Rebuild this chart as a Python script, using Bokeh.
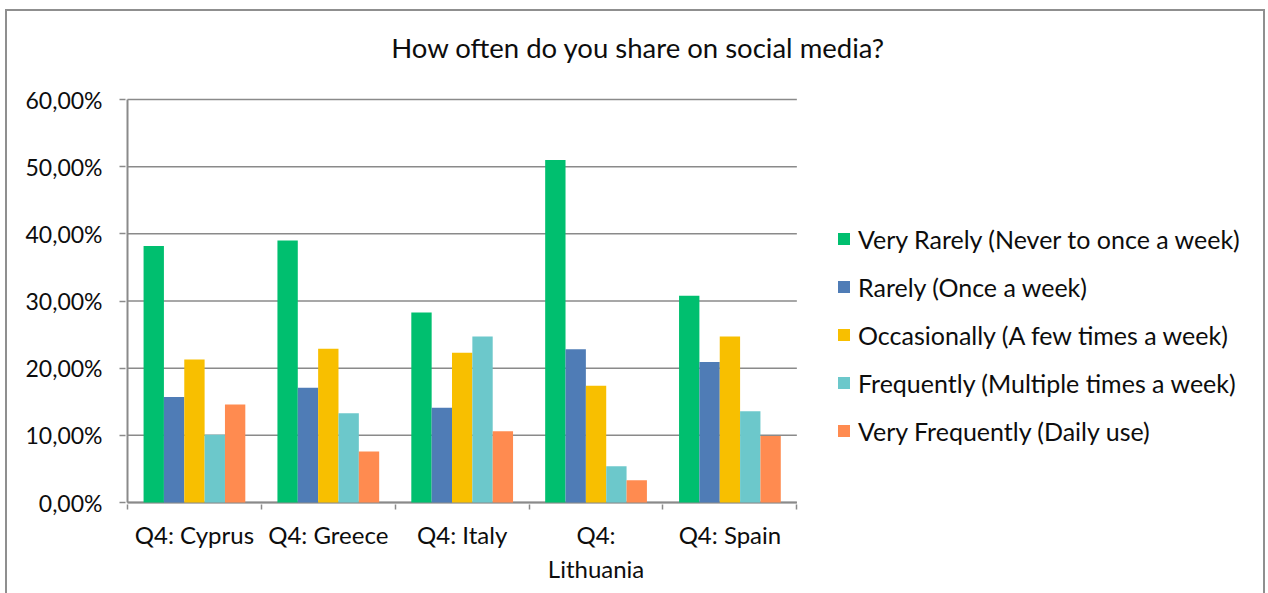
from bokeh.plotting import figure
from bokeh.models import Range1d, FixedTicker, ColumnDataSource, Legend, LegendItem, Label
from bokeh.embed import file_html
from bokeh.resources import INLINE

categories = ["Q4: Cyprus", "Q4: Greece", "Q4: Italy", "Q4: Lithuania", "Q4: Spain"]
x_tick_labels = ["Q4: Cyprus", "Q4: Greece", "Q4: Italy", "Q4:\nLithuania", "Q4: Spain"]

series_names = [
    "Very Rarely (Never to once a week)",
    "Rarely (Once a week)",
    "Occasionally (A few times a week)",
    "Frequently (Multiple times a week)",
    "Very Frequently (Daily use)",
]
very_rarely = [0.382, 0.390, 0.283, 0.510, 0.308]
rarely = [0.157, 0.171, 0.141, 0.228, 0.209]
occasionally = [0.213, 0.229, 0.223, 0.174, 0.247]
frequently = [0.101, 0.133, 0.247, 0.054, 0.136]
very_frequently = [0.146, 0.076, 0.106, 0.033, 0.099]

y_ticks = [0.0, 0.1, 0.2, 0.3, 0.4, 0.5, 0.6]
y_tick_labels = ["0,00%", "10,00%", "20,00%", "30,00%", "40,00%", "50,00%", "60,00%"]
title_text = "How often do you share on social media?"

colors = ["#00BF6F", "#4F7CB6", "#F8BF00", "#6CC8CB", "#FF8B50"]
series_values = [very_rarely, rarely, occasionally, frequently, very_frequently]

FONT = "Lato"
TXT = "#0d0d0d"
GRID = "#8a8a8a"

# ---- layout constants (page pixels) ----
n = len(categories)
y_max = y_ticks[-1]
PLOT_L, PLOT_R = 127, 794      # plotting area (data x 0..n)
PLOT_T, PLOT_B = 99, 502       # plotting area (data y 0..y_max)
FRAME_L, FRAME_R = 125, 1263   # bokeh frame
FRAME_T, FRAME_B = 11, 504
CANVAS_B = 595
ux = (PLOT_R - PLOT_L) / n     # px per category
uy = (PLOT_B - PLOT_T) / y_max # px per unit y

x_range = Range1d((FRAME_L - PLOT_L) / ux, (FRAME_R - PLOT_L) / ux)
y_range = Range1d((PLOT_B - FRAME_B) / uy, (PLOT_B - FRAME_T) / uy)

p = figure(width=1260, height=584, x_range=x_range, y_range=y_range,
           output_backend="svg", toolbar_location=None,
           min_border_left=FRAME_L - 7, min_border_right=0, min_border_top=0,
           min_border_bottom=CANVAS_B - FRAME_B)
p.margin = (9, 0, 0, 5)
p.styles = {"border-top": "2px solid #8f8f8f", "border-left": "2px solid #8f8f8f",
            "border-right": "2px solid #8f8f8f", "box-sizing": "border-box"}
p.outline_line_color = None
p.background_fill_color = "white"
p.border_fill_color = "white"

# gridlines and axis lines limited to plotting area
p.segment(x0=[0] * len(y_ticks), x1=[n] * len(y_ticks), y0=y_ticks, y1=y_ticks,
          line_color=GRID, line_width=1.5)
p.segment(x0=[0], x1=[0], y0=[0], y1=[y_max], line_color=GRID, line_width=2)
p.segment(x0=[0], x1=[n], y0=[0], y1=[0], line_color=GRID, line_width=2)

bar_w = 0.152
items = []
for k, (name, vals, col) in enumerate(zip(series_names, series_values, colors)):
    xs = [i + 0.5 + (k - 2) * bar_w for i in range(n)]
    src = ColumnDataSource(dict(x=xs, top=vals, cat=categories))
    r = p.vbar(x="x", top="top", bottom=0, width=bar_w, source=src, fill_color=col,
               line_color=None)
    items.append(LegendItem(label=name, renderers=[r]))

# axes
xa = p.xaxis[0]
xa.ticker = FixedTicker(ticks=[i + 0.5 for i in range(n)], minor_ticks=list(range(n + 1)))
xa.major_label_overrides = {i + 0.5: lab for i, lab in enumerate(x_tick_labels)}
xa.major_tick_line_color = None
xa.minor_tick_in = 0
xa.minor_tick_out = 5
xa.minor_tick_line_color = GRID
xa.minor_tick_line_width = 1.5
xa.axis_line_color = None
xa.major_label_text_font = FONT
xa.major_label_text_font_size = "24px"
xa.major_label_text_color = TXT
xa.major_label_standoff = 9

ya = p.yaxis[0]
ya.ticker = FixedTicker(ticks=y_ticks)
ya.major_label_overrides = {t: lab for t, lab in zip(y_ticks, y_tick_labels)}
ya.minor_tick_line_color = None
ya.major_tick_in = 0
ya.major_tick_out = 6
ya.major_tick_line_color = GRID
ya.major_tick_line_width = 1.5
ya.axis_line_color = None
ya.major_label_text_font = FONT
ya.major_label_text_font_size = "23px"
ya.major_label_text_color = TXT
ya.major_label_standoff = 17

p.xgrid.grid_line_color = None
p.ygrid.grid_line_color = None

# title (centered on the whole chart)
p.add_layout(Label(x=(636 - PLOT_L) / ux, y=(PLOT_B - 47) / uy, text=title_text,
                   text_font=FONT, text_font_size="27.5px", text_color=TXT,
                   text_align="center", text_baseline="middle"))

legend = Legend(items=items, location=(836 - FRAME_L, FRAME_B - 447.5 + 2), orientation="vertical",
                glyph_width=15, glyph_height=15, label_height=30, spacing=18,
                label_standoff=7, padding=0, margin=0,
                label_text_font=FONT, label_text_font_size="25px", label_text_color=TXT,
                border_line_color=None, background_fill_alpha=0)
p.add_layout(legend, "center")

open("out.html", "w").write(file_html(p, INLINE))
